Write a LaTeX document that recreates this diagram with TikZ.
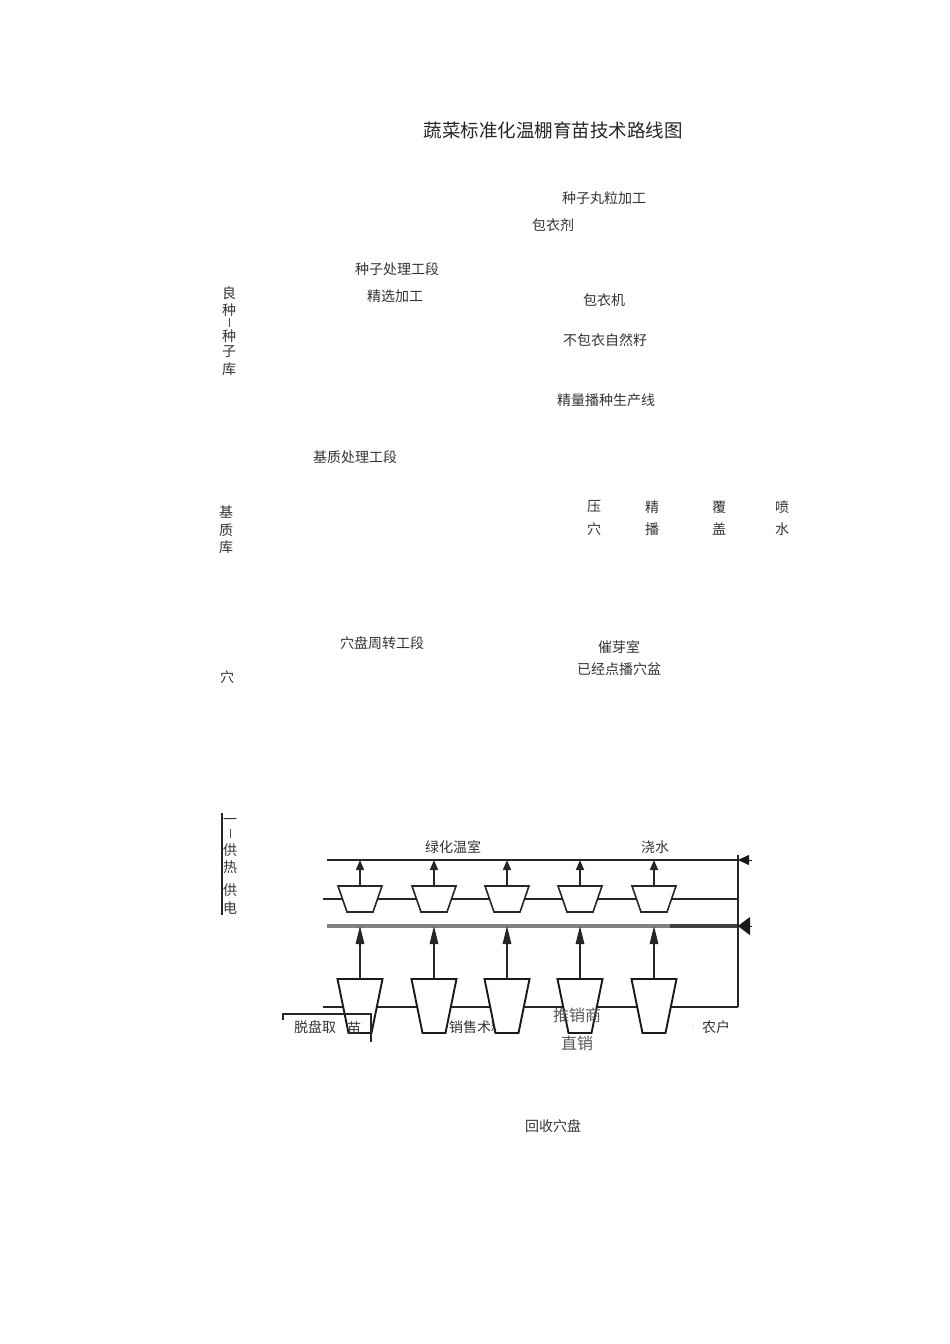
\documentclass[tikz,border=0pt]{standalone}
\usepackage{fontspec}
\newfontfamily\cjk{Noto Sans CJK SC}
\usetikzlibrary{arrows.meta}
\begin{document}
\begin{tikzpicture}[x=1pt,y=-1pt,
  lbl/.style={font=\cjk\fontsize{14}{16}\selectfont, text=black!80, inner sep=0pt},
  ttl/.style={font=\cjk\fontsize{18.5}{20}\selectfont, text=black!85, inner sep=0pt},
  big/.style={font=\cjk\fontsize{16}{18}\selectfont, text=black!65, inner sep=0pt},
  ln/.style={line width=1.8pt, black!85},
  smalltrap/.style={draw=black!85, line width=1.6pt, fill=white, line join=miter},
  bigtrap/.style={draw=black!90, line width=1.9pt, fill=white, line join=miter},
  arr/.style={line width=1.6pt, black!85, -{Triangle[length=10pt,width=8pt]}},
  arrlong/.style={line width=1.6pt, black!85, -{Triangle[length=18pt,width=8.5pt]}}
]
\useasboundingbox (0,0) rectangle (950,1344);

% ---------- texts of the upper part ----------
\node[ttl] (title) at (553,130) {蔬菜标准化温棚育苗技术路线图};
\node[lbl] (t1) at (604,198) {种子丸粒加工};
\node[lbl] (t2) at (553,225) {包衣剂};
\node[lbl] (t3) at (397,269) {种子处理工段};
\node[lbl] (t4) at (395,296) {精选加工};
\node[lbl] (t5) at (604,300) {包衣机};
\node[lbl] (t6) at (605,340) {不包衣自然籽};
\node[lbl] (t7) at (606,400) {精量播种生产线};
\node[lbl] (t8) at (355,457) {基质处理工段};
\node[lbl] (p1) at (594,507) {压};
\node[lbl] (p2) at (594,529) {穴};
\node[lbl] (p3) at (652,507) {精};
\node[lbl] (p4) at (652,529) {播};
\node[lbl] (p5) at (719,507) {覆};
\node[lbl] (p6) at (719,529) {盖};
\node[lbl] (p7) at (782,507) {喷};
\node[lbl] (p8) at (782,529) {水};
\node[lbl] (t9) at (382,643) {穴盘周转工段};
\node[lbl] (t10) at (619,647) {催芽室};
\node[lbl] (t11) at (619,669) {已经点播穴盆};
\node[lbl] (t12) at (227,677) {穴};

% vertical texts
\node[lbl] (v1) at (229,293) {良};
\node[lbl] (v2) at (229,310) {种};
\draw[black!70, line width=0.8pt] (229,318) -- (229,327);
\node[lbl] (v3) at (229,336) {种};
\node[lbl] (v4) at (229,352) {子};
\node[lbl] (v5) at (229,369) {库};
\node[lbl] (w1) at (226,512) {基};
\node[lbl] (w2) at (226,530) {质};
\node[lbl] (w3) at (226,547) {库};
\draw[black!85, line width=1.3pt] (222,813) -- (222,915);
\node[lbl] (h1) at (230,821) {一};
\draw[black!70, line width=0.8pt] (230,829) -- (230,838);
\node[lbl] (h2) at (230,850) {供};
\node[lbl] (h3) at (230,867) {热};
\node[lbl] (h4) at (230,890) {供};
\node[lbl] (h5) at (230,908) {电};

% ---------- lower diagram ----------
\coordinate (topL) at (327,860);
\coordinate (topR) at (738,860);
\coordinate (midL) at (323,899);
\coordinate (midR) at (738,899);
\coordinate (thkL) at (327,926);
\coordinate (thkM) at (670,926);
\coordinate (thkR) at (738,926);
\coordinate (botL) at (323,1007);
\coordinate (botR) at (738,1007);
\coordinate (vTop) at (738,855);
\coordinate (inA) at (752,860);
\coordinate (inB) at (752,926);

\draw[ln] (topL) -- (topR);
\draw[ln, line width=1.5pt] (midL) -- (midR);
\draw[black!50, line width=3.8pt] (thkL) -- (thkM);
\draw[black!75, line width=4.2pt] (thkM) -- (thkR);
\draw[ln] (botL) -- (botR);
\draw[ln] (vTop) -- (botR);
\draw[line width=0.1pt, -{Triangle[length=11pt,width=10pt]}, black!90] (inA) -- (topR);
\draw[line width=0.1pt, -{Triangle[length=12pt,width=18pt]}, black!90] (inB) -- (thkR);

\node[lbl] (sale) at (477,1027) {销售术料};

\foreach \i/\x in {1/360,2/434,3/507,4/580,5/654} {
  \coordinate (s\i) at (\x,886);
  \coordinate (b\i) at (\x,979);
  \draw[smalltrap] (\x-22,886) -- (\x+22,886) -- (\x+13,912) -- (\x-13,912) -- cycle;
  \draw[bigtrap] (\x-22.5,979) -- (\x+22.5,979) -- (\x+11.5,1033) -- (\x-11.5,1033) -- cycle;
  \draw[black!90, line width=2.6pt] (\x-22.5,979) -- (\x+22.5,979);
  \draw[arr] (s\i) -- (s\i |- topL);
  \draw[arrlong] (b\i) -- (b\i |- thkL);
}

\node[lbl] (gh) at (453,847) {绿化温室};
\node[lbl] (ws) at (655,847) {浇水};

% bracket of the first label
\coordinate (brA) at (283,1020);
\coordinate (brB) at (283,1014);
\coordinate (brC) at (371,1014);
\coordinate (brD) at (371,1042);
\draw[black!85, line width=1.5pt] (brA) -- (brB) -- (brC) -- (brD);

\node[lbl] (out1) at (315,1027) {脱盘取};
\node[lbl] (out2) at (354,1028) {苗};
\node[big] (out3) at (577,1015) {推销商};
\node[big] (out4) at (577,1043) {直销};
\node[font=\fontsize{8}{9}\selectfont, text=black!40, inner sep=0pt] (dot) at (693,1027) {;};
\node[lbl] (out5) at (716,1027) {农户};
\node[lbl] (rec) at (553,1126) {回收穴盘};
\end{tikzpicture}
\end{document}
